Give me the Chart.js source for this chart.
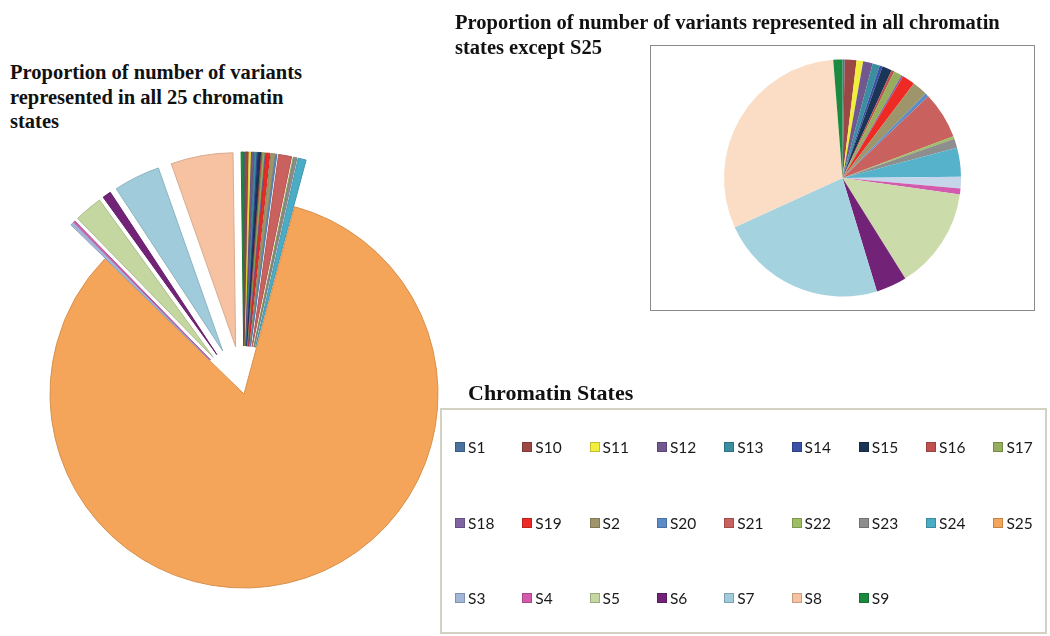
<!DOCTYPE html>
<html>
<head>
<meta charset="utf-8">
<script src="https://cdn.jsdelivr.net/npm/chart.js@4.4.1/dist/chart.umd.min.js"></script>
<style>
    body {
        margin: 0;
        width: 1050px;
        height: 636px;
        background: #fff;
        position: relative;
        overflow: hidden;
    }
    .title {
        position: absolute;
        font-family: "Liberation Serif", "Times New Roman", serif;
        font-weight: bold;
        color: #111;
        white-space: nowrap;
    }
    #subBox {
        position: absolute;
        left: 650px;
        top: 45px;
        width: 385px;
        height: 266px;
        box-sizing: border-box;
        border: 1px solid #8a8a8a;
    }
    #legendBox {
        position: absolute;
        left: 440px;
        top: 408px;
        width: 607px;
        height: 226px;
        box-sizing: border-box;
        border: 2px solid #d3d1c2;
    }
    .item {
        position: absolute;
        font-family: Lato, "Open Sans", sans-serif;
        font-size: 15.5px;
        color: #1a1a1a;
        line-height: 18px;
        white-space: nowrap;
    }
    .item i {
        display: inline-block;
        width: 10px;
        height: 10px;
        margin-right: 3px;
        box-sizing: border-box;
        vertical-align: 1px;
    }
</style>
</head>
<body>
<canvas id="allPie" width="500" height="500" style="position:absolute;left:-6px;top:144px"></canvas>
<div id="subBox"><canvas id="subPie" width="383" height="264"></canvas></div>
<div id="legendBox"></div>

<div class="title" style="left:10px;top:60px;font-size:20.5px;line-height:24.5px">Proportion of number of variants<br>represented in all 25 chromatin<br>states</div>
<div class="title" style="left:455px;top:10px;font-size:20.5px;line-height:24.5px">Proportion of number of variants represented in all chromatin<br>states except S25</div>
<div class="title" style="left:468px;top:380px;font-size:22px;line-height:26px">Chromatin States</div>

<script>
// chromatin states, in the order Excel plotted them
const states = ['S1', 'S10', 'S11', 'S12', 'S13', 'S14', 'S15', 'S16', 'S17', 'S18', 'S19', 'S2', 'S20',
    'S21', 'S22', 'S23', 'S24', 'S25', 'S3', 'S4', 'S5', 'S6', 'S7', 'S8', 'S9'];

// relative number of variants per state
const variants = [0.3, 1.6, 0.9, 1.3, 1.0, 0.4, 1.3, 0.4, 1.1, 0.25, 1.75, 2.1, 0.5,
    6.4, 0.35, 1.25, 3.95, 492, 1.6, 0.8, 13.9, 4.2, 22.9, 30.6, 1.25];

const stateColors = ['#4A72A0', '#9C4845', '#F2EE3C', '#71588F', '#3A8EA0', '#3B51A8', '#1B3556', '#C0504D',
    '#94AE5C', '#8064A2', '#EE2A24', '#9F956A', '#5B8CC8', '#C9625E', '#9DBE63', '#8E8E8E', '#4BACC6',
    '#F4A55A', '#A2B6DA', '#D35BAE', '#C4D7A0', '#722377', '#9FCBDA', '#F6C2A2', '#1C8A3E'];

// the small pie was drawn a bit lighter for a few states
const subOverrides = { S3: '#C5D5EA', S5: '#CBDBAA', S7: '#A5D2DF', S8: '#FADDC4', S24: '#55B2CA' };

function shade(hex, f) {
    const n = parseInt(hex.slice(1), 16);
    const r = Math.round(((n >> 16) & 255) * f);
    const g = Math.round(((n >> 8) & 255) * f);
    const b = Math.round((n & 255) * f);
    return `rgb(${r},${g},${b})`;
}

// how far each slice is pulled out of the big pie, px
const pullOut = states.map(s => s === 'S25' ? 0 : 48);

// Chart.js enlarges thin slices when "offset" is used, so draw the pulled-out
// slices from the arc elements ourselves
const explodePlugin = {
    id: 'explode',
    beforeDatasetDraw(chart, args) {
        const ctx = chart.ctx;
        args.meta.data.forEach((arc, i) => {
            const { x, y, startAngle, endAngle, outerRadius } =
                arc.getProps(['x', 'y', 'startAngle', 'endAngle', 'outerRadius']);
            const mid = (startAngle + endAngle) / 2;
            const cx = x + Math.cos(mid) * pullOut[i];
            const cy = y + Math.sin(mid) * pullOut[i];
            ctx.save();
            ctx.beginPath();
            ctx.moveTo(cx, cy);
            ctx.arc(cx, cy, outerRadius, startAngle, endAngle);
            ctx.closePath();
            ctx.fillStyle = arc.options.backgroundColor;
            ctx.fill();
            ctx.lineWidth = arc.options.borderWidth;
            ctx.strokeStyle = arc.options.borderColor;
            ctx.lineJoin = 'round';
            ctx.stroke();
            ctx.restore();
        });
        return false;
    }
};

const noExtras = {
    responsive: false,
    animation: false,
    plugins: {
        legend: { display: false },
        tooltip: { enabled: false }
    }
};

// left pie: every state pulled out except S25
new Chart(document.getElementById('allPie'), {
    type: 'pie',
    data: {
        labels: states,
        datasets: [{
            data: variants,
            backgroundColor: stateColors,
            borderColor: stateColors.map(c => shade(c, 0.88)),
            borderWidth: 1
        }]
    },
    options: { ...noExtras, layout: { padding: 55.5 } },
    plugins: [explodePlugin]
});

// right pie: same data without S25
const subStates = states.filter(s => s !== 'S25');
const subVariants = variants.filter((v, i) => states[i] !== 'S25');
const subColors = subStates.map(s => subOverrides[s] || stateColors[states.indexOf(s)]);

new Chart(document.getElementById('subPie'), {
    type: 'pie',
    data: {
        labels: subStates,
        datasets: [{
            data: subVariants,
            backgroundColor: subColors,
            borderWidth: 0
        }]
    },
    options: { ...noExtras, layout: { padding: { top: 13.5, bottom: 13.5 } } }
});

// legend grid, 9 columns
const box = document.getElementById('legendBox');
states.forEach((s, i) => {
    const col = i % 9, row = Math.floor(i / 9);
    const el = document.createElement('div');
    el.className = 'item';
    el.style.left = (13 + col * 67.3) + 'px';
    el.style.top = (28 + row * 75.7) + 'px';
    el.innerHTML = `<i style="background:${stateColors[i]};border:1px solid ${shade(stateColors[i], 0.8)}"></i>${s}`;
    box.appendChild(el);
});
</script>
</body>
</html>
